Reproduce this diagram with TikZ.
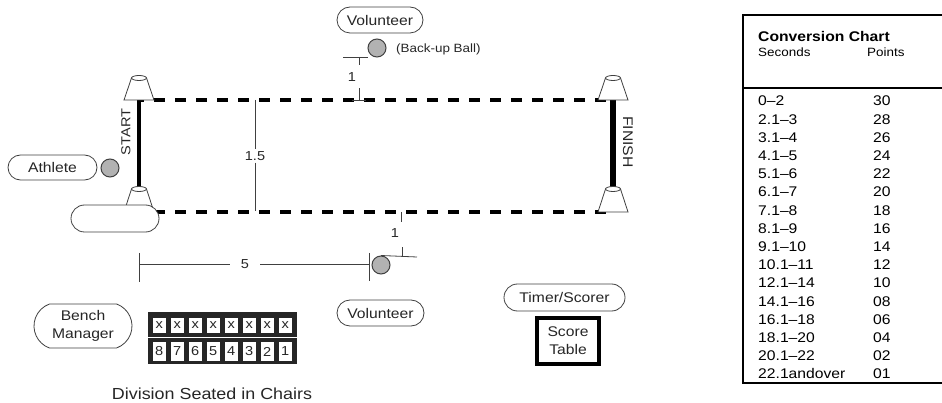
\documentclass[tikz,border=0pt]{standalone}
\usepackage{fontspec}
\setmainfont{Liberation Sans}[FakeStretch=1.12]
\usetikzlibrary{shapes.misc}

\begin{document}
\begin{tikzpicture}[x=1pt,y=-1pt,
  role/.style={rounded rectangle, draw=black!75, line width=0.8pt, fill=white,
    inner sep=0pt, text=black!85, font=\fontsize{14}{18}\selectfont, align=center},
  ball/.style={circle, draw=black!75, line width=1pt, fill=black!30,
    minimum size=18pt, inner sep=0pt},
  dimline/.style={draw=black!75, line width=0.8pt},
  dimlabel/.style={inner sep=0pt, text=black!85, font=\fontsize{13}{15}\selectfont},
  lane/.style={line width=4pt, dash pattern=on 11pt off 10pt, dash phase=6pt},
  cone/.style={draw=black!75, line width=0.8pt, fill=white},
  seatrow/.style={fill=black!85, inner sep=0pt, minimum width=148.5pt},
  seat/.style={fill=white, inner sep=0pt, minimum width=13.5pt,
    text=black!85, font=\fontsize{13}{15}\selectfont}]
\useasboundingbox (0,0) rectangle (942,403);

% conversion chart
\draw[line width=2.5pt] (743,15) rectangle (960,383);
\draw[line width=2.5pt] (743,88) -- (960,88);
\node[anchor=base west, inner sep=0pt, font=\bfseries\fontsize{14}{16}\selectfont]
     (chartTitle) at (758,42) {Conversion Chart};
\node[anchor=base west, inner sep=0pt, font=\fontsize{12}{14}\selectfont]
     (colSec) at (758,57) {Seconds};
\node[anchor=base west, inner sep=0pt, font=\fontsize{12}{14}\selectfont]
     (colPts) at (867,57) {Points};
\node[anchor=base west, inner sep=0pt, font=\fontsize{14}{18.2}\selectfont]
     (chartRows) at (758,106) {\begin{tabular}[t]{@{}p{115pt}@{}l@{}}
0–2 & 30\\ 2.1–3 & 28\\ 3.1–4 & 26\\ 4.1–5 & 24\\ 5.1–6 & 22\\ 6.1–7 & 20\\
7.1–8 & 18\\ 8.1–9 & 16\\ 9.1–10 & 14\\ 10.1–11 & 12\\ 12.1–14 & 10\\
14.1–16 & 08\\ 16.1–18 & 06\\ 18.1–20 & 04\\ 20.1–22 & 02\\ 22.1andover & 01
\end{tabular}};

% cone bases
\coordinate (coneTL) at (139,100);
\coordinate (coneBL) at (139,212);
\coordinate (coneTR) at (613,100);
\coordinate (coneBR) at (613,212);

% lanes and start/finish lines
\draw[lane] (coneTL) -- (coneTR);
\draw[lane] (coneBL) -- (coneBR);
\draw[line width=4pt] (coneTL) -- (coneBL);
\draw[line width=6pt] (coneTR) -- (coneBR);

% cones
\draw[cone] (coneTL) ++(-15,0) -- ++(7.5,-22) -- ++(15,0) -- ++(7.5,22) -- cycle;
\draw[cone] (coneTL) ++(0,-22) ellipse [x radius=7.5, y radius=2.5];
\draw[cone] (coneBL) ++(-15,0) -- ++(7.5,-23) -- ++(15,0) -- ++(7.5,23) -- cycle;
\draw[cone] (coneBL) ++(0,-23) ellipse [x radius=7.5, y radius=2.5];
\draw[cone] (coneTR) ++(-15,0) -- ++(7.5,-22) -- ++(15,0) -- ++(7.5,22) -- cycle;
\draw[cone] (coneTR) ++(0,-22) ellipse [x radius=7.5, y radius=2.5];
\draw[cone] (coneBR) ++(-15,0) -- ++(7.5,-23) -- ++(15,0) -- ++(7.5,23) -- cycle;
\draw[cone] (coneBR) ++(0,-23) ellipse [x radius=7.5, y radius=2.5];

\node[rotate=90, text=black!85, font=\fontsize{13}{15}\selectfont] (startLbl) at (126,132) {START};
\node[rotate=-90, text=black!85, font=\fontsize{14}{16}\selectfont] (finishLbl) at (628,142) {FINISH};

% people and balls
\node[role, minimum width=89pt, minimum height=25pt] (athlete) at (52.5,167.5) {Athlete};
\node[ball] (ballAthlete) at (110,168) {};
\node[role, minimum width=88pt, minimum height=27pt] (spare) at (115,218.5) {};
\node[role, minimum width=86pt, minimum height=26pt] (volTop) at (380,20) {Volunteer};
\node[ball] (ballTop) at (377,48) {};
\node[anchor=west, inner sep=0pt, text=black!85, font=\fontsize{12}{14}\selectfont]
     (backup) at (396,49) {(Back-up Ball)};
\node[ball] (ballBot) at (381,265) {};
\node[role, minimum width=87pt, minimum height=26pt] (volBot) at (380.5,313) {Volunteer};
\node[role, minimum width=121pt, minimum height=27pt] (timer) at (564.5,297.5) {Timer/Scorer};
\node[draw, line width=4pt, fill=white, minimum width=62pt, minimum height=46pt, inner sep=0pt,
      text=black!85, align=center, font=\fontsize{14}{18}\selectfont]
     (scoreTable) at (568,341) {Score\\Table};
\node[role, rounded rectangle arc length=140, minimum width=98pt, minimum height=44pt]
     (bench) at (83,326) {Bench\\Manager};

% dimension 1.5
\coordinate (d15a) at (255,100);
\coordinate (d15b) at (255,211);
\node[dimlabel] (lbl15) at (255,156) {1.5};
\draw[dimline] (d15a) -- ([yshift=2pt]lbl15.north);
\draw[dimline] ([yshift=-2pt]lbl15.south) -- (d15b);

% dimension 1 (top)
\coordinate (d1Ta) at (343,57);
\coordinate (d1Tb) at (359,57);
\coordinate (d1Tc) at (359,100);
\draw[dimline] (d1Ta) -- (d1Ta -| ballTop.west);
\draw[dimline] (d1Tb) -- ++(0,8);
\draw[dimline] (d1Tc) -- ++(0,-12);
\draw[dimline] (d1Tc) ++(-7,0) -- ++(14,0);
\node[dimlabel] (lbl1T) at (352,77) {1};

% dimension 1 (bottom)
\coordinate (d1Ba) at (401,212);
\coordinate (d1Bb) at (402,257);
\coordinate (d1Bc) at (417,257);
\draw[dimline] (d1Ba) -- ++(0,10);
\draw[dimline] (d1Bb) -- ++(0,-10);
\draw[dimline] (ballBot.north) -- (d1Bc);
\node[dimlabel] (lbl1B) at (395,233) {1};

% dimension 5
\coordinate (d5a) at (139,264);
\coordinate (d5b) at (369,264);
\draw[dimline] (d5a) ++(0,-11) -- ++(0,29);
\draw[dimline] (d5b) ++(0,-11) -- ++(0,28);
\node[dimlabel, fill=white, minimum width=30pt, minimum height=8pt] (lbl5) at (245,264) {5};
\draw[dimline] (d5a) -- (lbl5.west);
\draw[dimline] (lbl5.east) -- (d5b);

% chairs
\node[seatrow, minimum height=25pt] (rowTop) at (222.5,324.5) {};
\node[seatrow, minimum height=26pt] (rowBot) at (222.5,351) {};
\node[seat, minimum height=15pt] (seatX1) at (159.25,325) {x};
\node[seat, minimum height=15pt] (seatX2) at (177.25,325) {x};
\node[seat, minimum height=15pt] (seatX3) at (195.25,325) {x};
\node[seat, minimum height=15pt] (seatX4) at (213.25,325) {x};
\node[seat, minimum height=15pt] (seatX5) at (231.25,325) {x};
\node[seat, minimum height=15pt] (seatX6) at (249.25,325) {x};
\node[seat, minimum height=15pt] (seatX7) at (267.25,325) {x};
\node[seat, minimum height=15pt] (seatX8) at (285.25,325) {x};
\node[seat, minimum height=19pt] (seatN8) at (159.25,351.5) {8};
\node[seat, minimum height=19pt] (seatN7) at (177.25,351.5) {7};
\node[seat, minimum height=19pt] (seatN6) at (195.25,351.5) {6};
\node[seat, minimum height=19pt] (seatN5) at (213.25,351.5) {5};
\node[seat, minimum height=19pt] (seatN4) at (231.25,351.5) {4};
\node[seat, minimum height=19pt] (seatN3) at (249.25,351.5) {3};
\node[seat, minimum height=19pt] (seatN2) at (267.25,351.5) {2};
\node[seat, minimum height=19pt] (seatN1) at (285.25,351.5) {1};
\node[anchor=base, inner sep=0pt, text=black!85, font=\fontsize{16}{18}\selectfont]
     (division) at (212,399) {Division Seated in Chairs};
\end{tikzpicture}
\end{document}
